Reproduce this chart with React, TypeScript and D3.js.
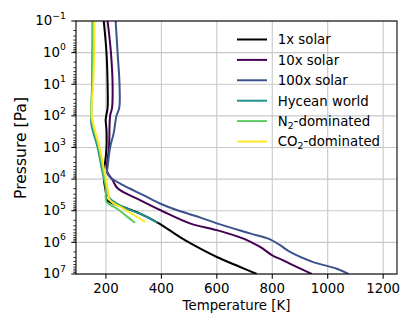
import React from "react";
import * as d3 from "d3";

// ---- data (temperature K, pressure Pa) ----
const seriesNames = ["1x solar", "10x solar", "100x solar", "Hycean world", "N2-dominated", "CO2-dominated"];
const seriesColors = ["#000000", "#440154", "#3b528b", "#21918c", "#5ec962", "#fde725"];

const p1x = [1e-1, 1e0, 1e1, 5.6e1, 1e2, 1.35e2, 2.8e2, 1e3, 2.5e3, 5.2e3, 1.07e4, 2.75e4, 4.6e4, 7.6e4, 1.23e5, 2.4e5, 6.8e5, 1.55e6, 2.9e6, 6.0e6, 1e7];
const t1x = [192, 202, 206, 206, 201, 199, 202, 202, 198, 193, 193, 200, 203, 262, 323, 388, 467, 539, 600, 684, 744];

const p10x = [1e-1, 1e0, 1e1, 5.6e1, 1e2, 1e3, 3.6e3, 6.0e3, 1.07e4, 1.95e4, 4.6e4, 1e5, 2.5e5, 4.1e5, 7.6e5, 9.5e5, 1.38e6, 2.57e6, 3.6e6, 4.7e6, 9.5e6, 1e7];
const t10x = [206, 218, 224, 222, 215, 211, 204, 205, 224, 242, 323, 401, 503, 600, 696, 720, 756, 800, 836, 863, 938, 943];

const p100x = [1e-1, 1e0, 1e1, 5.6e1, 1e2, 3.5e2, 1e3, 4.1e3, 6.0e3, 8.5e3, 1.55e4, 3.2e4, 5.9e4, 9.5e4, 1.62e5, 2.5e5, 5.2e5, 7.9e5, 1.23e6, 2.0e6, 4.2e6, 6.8e6, 1e7];
const t100x = [235, 242, 249, 248, 238, 228, 215, 206, 204, 214, 262, 335, 395, 455, 539, 600, 720, 790, 828, 864, 948, 1033, 1075];

const pHycean = [1e-1, 1e0, 1e1, 1e2, 2.0e2, 1e3, 1.07e4, 1.38e4, 2.24e4, 4.0e4, 7.6e4, 1.23e5, 2.4e5];
const tHycean = [152, 151, 150, 147, 148, 170, 194, 200, 202, 213, 262, 323, 386];

const pN2 = [1e-1, 1e0, 1e1, 1e2, 1e3, 1e4, 2.24e4, 5.2e4, 8.5e4, 2.0e5, 2.4e5];
const tN2 = [151, 153, 152, 147, 174, 195, 200, 202, 239, 293, 305];

const pCO2 = [1e-1, 1e0, 1e1, 1e2, 1e3, 1e4, 2.5e4, 4.6e4, 8.5e4, 2.24e5];
const tCO2 = [158, 158, 154, 149, 177, 200, 208, 214, 262, 341];

const xTicks = [200, 400, 600, 800, 1000, 1200];
const yExponents = [-1, 0, 1, 2, 3, 4, 5, 6, 7];

const allP = [p1x, p10x, p100x, pHycean, pN2, pCO2];
const allT = [t1x, t10x, t100x, tHycean, tN2, tCO2];

export default function App() {
  const W = 415, H = 332;
  const left = 76, right = 397, top = 21, bottom = 274;
  const x = d3.scaleLinear().domain([92, 1250]).range([left, right]);
  const y = d3.scaleLog().domain([1e-1, 1e7]).range([top, bottom]);
  const font = "DejaVu Sans, sans-serif";
  const fs = 13.33;

  const line = d3
    .line<[number, number]>()
    .x((d) => x(d[0]))
    .y((d) => y(d[1]))
    .curve(d3.curveCatmullRom.alpha(0.5));

  const minorTicks: number[] = [];
  for (let e = -1; e < 7; e++) {
    for (let m = 2; m <= 9; m++) minorTicks.push(m * Math.pow(10, e));
  }

  const legendY0 = 39.5;
  const legendDy = 20.4;

  const renderLabel = (name: string) => {
    if (name.startsWith("N2")) {
      return (
        <>
          N<tspan fontSize={fs * 0.7} dy={3}>2</tspan>
          <tspan dy={-3}>-dominated</tspan>
        </>
      );
    }
    if (name.startsWith("CO2")) {
      return (
        <>
          CO<tspan fontSize={fs * 0.7} dy={3}>2</tspan>
          <tspan dy={-3}>-dominated</tspan>
        </>
      );
    }
    return name;
  };

  return (
    <svg width={W} height={H} style={{ position: "absolute", left: 0, top: 0, background: "#fff" }}>
      <defs>
        <clipPath id="plotclip">
          <rect x={left} y={top} width={right - left} height={bottom - top} />
        </clipPath>
      </defs>
      {/* grid */}
      <g stroke="#c8c8c8" strokeWidth={1.1}>
        {xTicks.map((t) => (
          <line key={"gx" + t} x1={x(t)} x2={x(t)} y1={top} y2={bottom} />
        ))}
        {yExponents.map((e) => (
          <line key={"gy" + e} x1={left} x2={right} y1={y(Math.pow(10, e))} y2={y(Math.pow(10, e))} />
        ))}
      </g>
      {/* series */}
      <g clipPath="url(#plotclip)" fill="none" strokeWidth={2} strokeLinejoin="round" strokeLinecap="butt">
        {allP.map((ps, i) => {
          const pts = ps.map((p, j) => [allT[i][j], p] as [number, number]);
          return <path key={i} d={line(pts) || ""} stroke={seriesColors[i]} />;
        })}
      </g>
      {/* frame */}
      <rect x={left} y={top} width={right - left} height={bottom - top} fill="none" stroke="#000" strokeWidth={1.07} />
      {/* x ticks */}
      <g fontFamily={font} fontSize={fs} textAnchor="middle">
        {xTicks.map((t) => (
          <g key={"xt" + t}>
            <line x1={x(t)} x2={x(t)} y1={bottom} y2={bottom + 4.7} stroke="#000" strokeWidth={1.07} />
            <text x={x(t)} y={292.7}>{t}</text>
          </g>
        ))}
      </g>
      {/* y ticks */}
      <g fontFamily={font} fontSize={fs}>
        {minorTicks.map((v, i) => (
          <line key={"ym" + i} x1={left - 2.7} x2={left} y1={y(v)} y2={y(v)} stroke="#000" strokeWidth={0.8} />
        ))}
        {yExponents.map((e) => {
          const yy = y(Math.pow(10, e));
          const expText = e < 0 ? "\u2212" + Math.abs(e) : String(e);
          return (
            <g key={"yt" + e}>
              <line x1={left - 4.7} x2={left} y1={yy} y2={yy} stroke="#000" strokeWidth={1.07} />
              <text x={66} y={yy + 4.3} textAnchor="end">
                10
                <tspan fontSize={9.3} dy={-6.5}>{expText}</tspan>
              </text>
            </g>
          );
        })}
      </g>
      {/* axis labels */}
      <text x={(left + right) / 2} y={310} textAnchor="middle" fontFamily={font} fontSize={fs}>
        Temperature [K]
      </text>
      <text
        transform={`translate(25.5, 148) rotate(-90)`}
        textAnchor="middle"
        fontFamily={font}
        fontSize={15.6}
      >
        Pressure [Pa]
      </text>
      {/* legend */}
      <g fontFamily={font} fontSize={fs}>
        {seriesNames.map((n, i) => {
          const ly = legendY0 + i * legendDy;
          return (
            <g key={"lg" + i}>
              <line x1={237} x2={267} y1={ly} y2={ly} stroke={seriesColors[i]} strokeWidth={2} />
              <text x={277.7} y={ly + 4.8}>{renderLabel(n)}</text>
            </g>
          );
        })}
      </g>
    </svg>
  );
}
